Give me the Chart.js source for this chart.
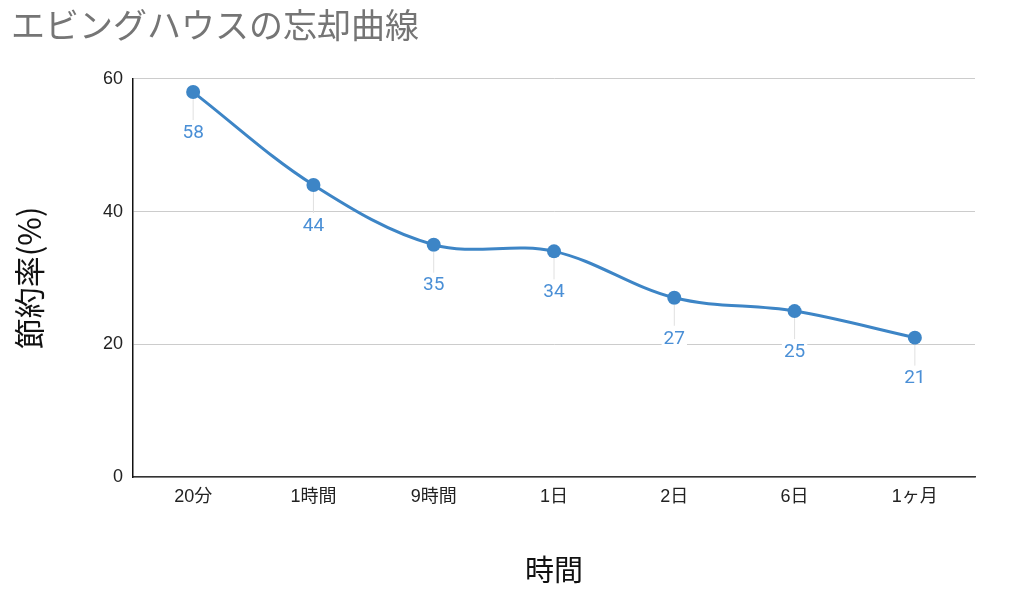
<!DOCTYPE html>
<html>
<head>
<meta charset="utf-8">
<script src="https://cdn.jsdelivr.net/npm/chart.js@4"></script>
<style>
  html, body { margin: 0; padding: 0; background: #fff; }
  #wrap { width: 1024px; height: 591px; }
</style>
</head>
<body>
<div id="wrap"><canvas id="chart" width="1024" height="591"></canvas></div>
<script>
/* エビングハウスの忘却曲線 */
(function () {
    'use strict';

    var categories = ['20分', '1時間', '9時間', '1日', '2日', '6日', '1ヶ月'];
    var savings    = [58, 44, 35, 34, 27, 25, 21];
    var yTicks     = [0, 20, 40, 60];

    var BLUE = '#3d85c6';
    var JP   = "'Liberation Sans', 'Noto Sans CJK JP', sans-serif";

    // leader line + value label under each point
    var pointLabels = {
        id: 'pointLabels',
        afterDatasetsDraw: function (chart) {
            var ctx  = chart.ctx;
            var meta = chart.getDatasetMeta(0);
            ctx.save();
            ctx.font = "19px Roboto, 'Noto Sans', sans-serif";
            ctx.textAlign = 'center';
            ctx.textBaseline = 'middle';
            meta.data.forEach(function (pt, i) {
                var txt = String(savings[i]);
                var ly  = pt.y + 41;
                ctx.strokeStyle = '#e0e0e0';
                ctx.lineWidth = 1;
                ctx.beginPath();
                ctx.moveTo(pt.x, pt.y + 7);
                ctx.lineTo(pt.x, ly - 13);
                ctx.stroke();
                var w = ctx.measureText(txt).width;
                ctx.fillStyle = '#fff';
                ctx.fillRect(pt.x - w / 2 - 2, ly - 10, w + 4, 20);
                ctx.fillStyle = '#4a8fd6';
                ctx.fillText(txt, pt.x, ly);
            });
            ctx.restore();
        }
    };

    new Chart(document.getElementById('chart'), {
        type: 'line',
        data: {
            labels: categories,
            datasets: [{
                data:             savings,
                borderColor:      BLUE,
                backgroundColor:  BLUE,
                borderWidth:      3,
                pointRadius:      7,
                pointHoverRadius: 7,
                pointBorderWidth: 0,
                tension:          0.35,
                fill:             false,
            }],
        },
        options: {
            responsive: false,
            animation:  false,
            layout: { padding: { left: 11, right: 49, top: 0, bottom: 0 } },
            plugins: {
                legend:  { display: false },
                tooltip: { enabled: false },
                title: {
                    display: true,
                    text:    'エビングハウスの忘却曲線',
                    align:   'start',
                    color:   '#757575',
                    font:    { family: "'Noto Sans CJK JP', sans-serif", size: 34, weight: 'normal', lineHeight: 1.2 },
                    padding: { top: 5, bottom: 33 },
                },
            },
            scales: {
                x: {
                    offset: true,
                    grid:   { display: false, drawTicks: false },
                    border: { color: '#333', width: 1.5 },
                    ticks:  { color: '#222', padding: 9, font: { family: JP, size: 18 } },
                    title: {
                        display: true,
                        text:    '時間',
                        color:   '#111',
                        font:    { family: "'Noto Sans CJK JP', sans-serif", size: 29 },
                        padding: { top: 0, bottom: 4 },
                    },
                    afterFit: function (scale) { scale.height = 114; },
                },
                y: {
                    min: 0,
                    max: 60,
                    afterBuildTicks: function (scale) {
                        scale.ticks = yTicks.map(function (v) { return { value: v }; });
                    },
                    grid:   { color: '#cccccc', drawTicks: false },
                    border: { color: '#111', width: 1.5 },
                    ticks:  { color: '#222', padding: 10, font: { family: JP, size: 18 } },
                    title: {
                        display: true,
                        text:    '節約率(%)',
                        color:   '#111',
                        font:    { family: "'Noto Sans CJK JP', sans-serif", size: 31 },
                        padding: { top: 0, bottom: 0 },
                    },
                    afterFit: function (scale) { scale.width = 122; },
                },
            },
        },
        plugins: [pointLabels],
    });
}());
</script>
</body>
</html>
